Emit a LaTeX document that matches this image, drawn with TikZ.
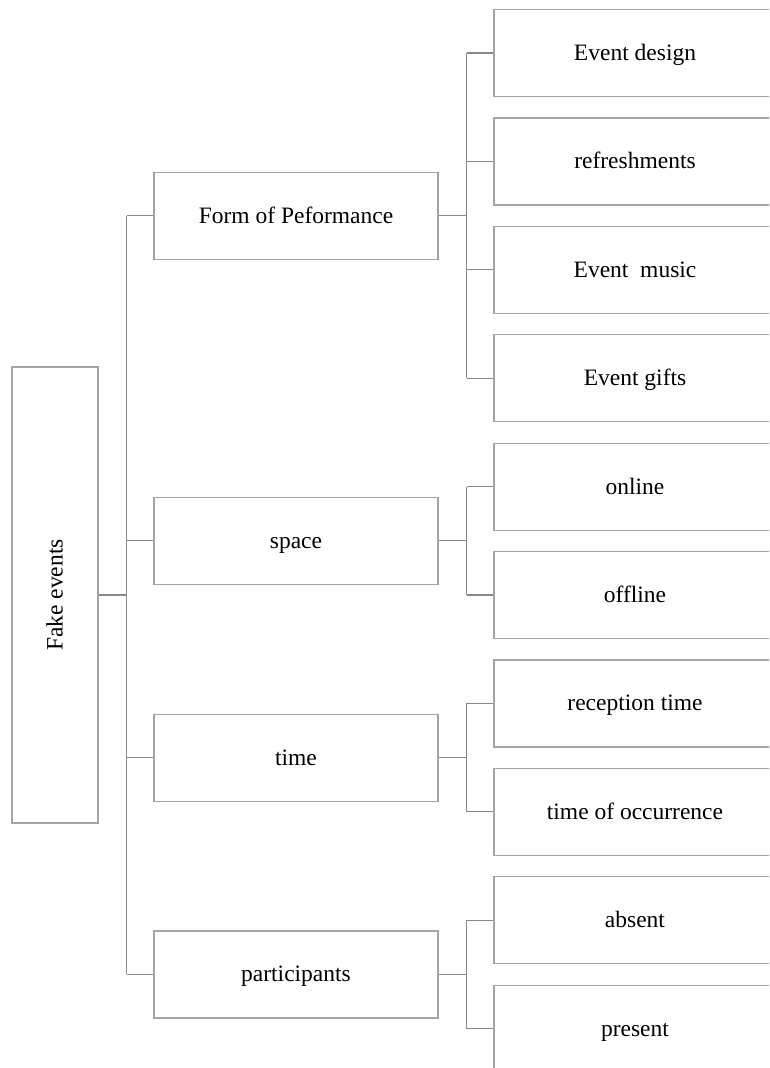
\documentclass[tikz,border=0pt]{standalone}
\usepackage{fontspec}
\setmainfont{Liberation Serif}
\usetikzlibrary{positioning}

\definecolor{boxgray}{RGB}{165,165,165}
\definecolor{linkgray}{RGB}{137,137,137}

\tikzset{
	box/.style={draw=boxgray, line width=1.2pt, fill=white, inner sep=0pt,
		text height=18pt, text depth=3pt, font=\fontsize{23.5}{28}\selectfont},
	catbox/.style={box, minimum width=284, minimum height=87},
	leafbox/.style={box, minimum width=282, minimum height=87},
	link/.style={draw=linkgray, line width=1.2pt},
}

\begin{document}
\begin{tikzpicture}[x=1pt,y=-1pt]
	\clip (0,0) rectangle (769,1068);
	\node[box, rotate=90, minimum width=456, minimum height=86] (fake) at (55,595) {Fake events};
	\node[catbox] (form) at (296,215.6) {Form of Peformance};
	\node[catbox] (space) at (296,540.8) {space};
	\node[catbox] (time) at (296,757.6) {time};
	\node[catbox] (part) at (296,974.4) {participants};
	\foreach \name/\y/\txt in {design/53/Event design, refresh/161.4/refreshments,
		music/269.8/Event~ music, gifts/378.2/Event gifts, online/486.6/online,
		offline/595/offline, reception/703.4/reception time,
		occurrence/811.8/time of occurrence, absent/920.2/absent, present/1028.6/present}
		\node[leafbox] (\name) at (635,\y) {\txt};
	% main trunk
	\draw[link] (fake.south) -- ++(28,0) coordinate (trunk);
	\draw[link] (trunk |- form.west) -- (trunk |- part.west);
	\foreach \n in {form,space,time,part}
		\draw[link] (trunk |- \n.west) -- (\n.west);
	% forks to the leaves
	\foreach \n/\first/\last/\list in {form/design/gifts/{design,refresh,music,gifts},
		space/online/offline/{online,offline}, time/reception/occurrence/{reception,occurrence},
		part/absent/present/{absent,present}}{
		\draw[link] (\n.east) -- ++(28,0) coordinate (fork);
		\draw[link] (fork |- \first.west) -- (fork |- \last.west);
		\foreach \m in \list
			\draw[link] (fork |- \m.west) -- (\m.west);
	}
\end{tikzpicture}
\end{document}
